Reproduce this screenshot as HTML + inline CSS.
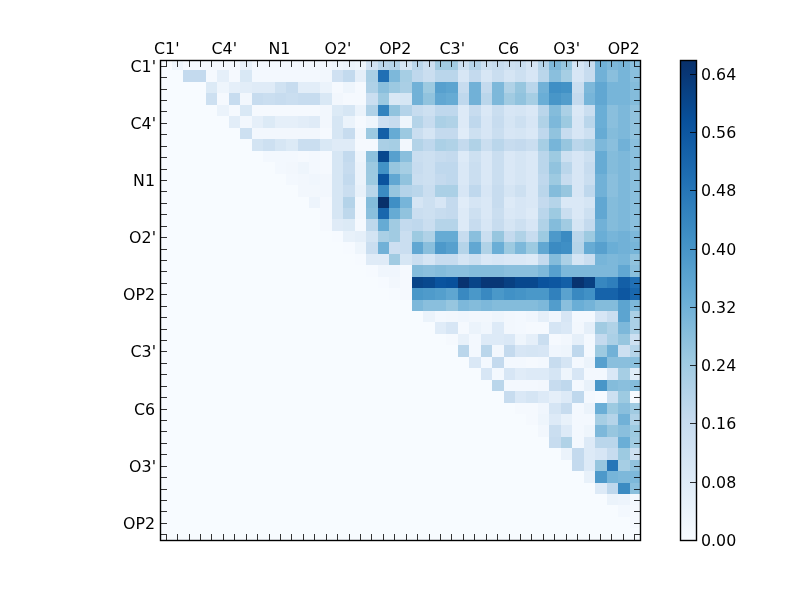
<!DOCTYPE html>
<html><head><meta charset="utf-8"><title>heatmap</title>
<style>
html,body{margin:0;padding:0;background:#fff;}
body{width:800px;height:600px;overflow:hidden;}
svg{display:block;}
text{font-family:"DejaVu Sans","Liberation Sans",sans-serif;font-size:16.67px;fill:#000;}
</style></head><body>
<svg width="800" height="600" viewBox="0 0 800 600">
<rect x="0" y="0" width="800" height="600" fill="#fff"/>
<defs><clipPath id="ax"><rect x="160" y="60" width="481" height="481"/></clipPath>
<linearGradient id="cb" x1="0" y1="0" x2="0" y2="1"><stop offset="0.0000" stop-color="#08306b"/><stop offset="0.0312" stop-color="#083776"/><stop offset="0.0625" stop-color="#084082"/><stop offset="0.0938" stop-color="#08488e"/><stop offset="0.1250" stop-color="#08509b"/><stop offset="0.1562" stop-color="#0e58a2"/><stop offset="0.1875" stop-color="#1460a8"/><stop offset="0.2188" stop-color="#1a68ae"/><stop offset="0.2500" stop-color="#2070b4"/><stop offset="0.2812" stop-color="#2979b9"/><stop offset="0.3125" stop-color="#3181bd"/><stop offset="0.3438" stop-color="#3989c1"/><stop offset="0.3750" stop-color="#4191c6"/><stop offset="0.4062" stop-color="#4b98ca"/><stop offset="0.4375" stop-color="#56a0ce"/><stop offset="0.4688" stop-color="#60a7d2"/><stop offset="0.5000" stop-color="#6aaed6"/><stop offset="0.5312" stop-color="#77b5d9"/><stop offset="0.5625" stop-color="#84bcdb"/><stop offset="0.5938" stop-color="#91c3de"/><stop offset="0.6250" stop-color="#9dcae1"/><stop offset="0.6562" stop-color="#a8cee4"/><stop offset="0.6875" stop-color="#b2d2e8"/><stop offset="0.7188" stop-color="#bcd7eb"/><stop offset="0.7500" stop-color="#c6dbef"/><stop offset="0.7812" stop-color="#ccdff1"/><stop offset="0.8125" stop-color="#d2e3f3"/><stop offset="0.8438" stop-color="#d8e7f5"/><stop offset="0.8750" stop-color="#deebf7"/><stop offset="0.9062" stop-color="#e4eff9"/><stop offset="0.9375" stop-color="#eaf3fb"/><stop offset="0.9688" stop-color="#f1f7fd"/><stop offset="1.0000" stop-color="#f7fbff"/></linearGradient></defs>
<g clip-path="url(#ax)" shape-rendering="crispEdges">
<rect x="160" y="60" width="481" height="481" fill="#f7fbff"/>
<rect x="172" y="60" width="11" height="10" fill="#eef5fc"/>
<rect x="183" y="60" width="57" height="10" fill="#f5f9fe"/>
<rect x="240" y="60" width="12" height="10" fill="#e8f1fa"/>
<rect x="252" y="60" width="46" height="10" fill="#f3f8fe"/>
<rect x="298" y="60" width="34" height="10" fill="#f2f7fd"/>
<rect x="332" y="60" width="11" height="10" fill="#eef5fc"/>
<rect x="343" y="60" width="12" height="10" fill="#ebf3fb"/>
<rect x="355" y="60" width="11" height="10" fill="#eef5fc"/>
<rect x="366" y="60" width="12" height="10" fill="#d0e1f2"/>
<rect x="378" y="60" width="11" height="10" fill="#bad6eb"/>
<rect x="389" y="60" width="11" height="10" fill="#b5d4e9"/>
<rect x="400" y="60" width="12" height="10" fill="#d6e6f4"/>
<rect x="412" y="60" width="11" height="10" fill="#bad6eb"/>
<rect x="423" y="60" width="12" height="10" fill="#cde0f1"/>
<rect x="435" y="60" width="23" height="10" fill="#a1cbe2"/>
<rect x="458" y="60" width="11" height="10" fill="#cde0f1"/>
<rect x="469" y="60" width="12" height="10" fill="#b5d4e9"/>
<rect x="481" y="60" width="11" height="10" fill="#cde0f1"/>
<rect x="492" y="60" width="12" height="10" fill="#c7dcef"/>
<rect x="504" y="60" width="11" height="10" fill="#cde0f1"/>
<rect x="515" y="60" width="11" height="10" fill="#cadef0"/>
<rect x="526" y="60" width="12" height="10" fill="#d5e5f4"/>
<rect x="538" y="60" width="11" height="10" fill="#b5d4e9"/>
<rect x="549" y="60" width="12" height="10" fill="#7db8da"/>
<rect x="561" y="60" width="11" height="10" fill="#97c6df"/>
<rect x="572" y="60" width="12" height="10" fill="#d5e5f4"/>
<rect x="584" y="60" width="11" height="10" fill="#c7dcef"/>
<rect x="595" y="60" width="12" height="10" fill="#71b1d7"/>
<rect x="607" y="60" width="11" height="10" fill="#7db8da"/>
<rect x="618" y="60" width="12" height="10" fill="#77b5d9"/>
<rect x="630" y="60" width="11" height="10" fill="#8abfdd"/>
<rect x="183" y="70" width="23" height="12" fill="#c4daee"/>
<rect x="206" y="70" width="11" height="12" fill="#f5f9fe"/>
<rect x="217" y="70" width="12" height="12" fill="#e5eff9"/>
<rect x="229" y="70" width="11" height="12" fill="#f5f9fe"/>
<rect x="240" y="70" width="12" height="12" fill="#d9e8f5"/>
<rect x="252" y="70" width="68" height="12" fill="#f3f8fe"/>
<rect x="320" y="70" width="12" height="12" fill="#f2f7fd"/>
<rect x="332" y="70" width="11" height="12" fill="#d0e1f2"/>
<rect x="343" y="70" width="12" height="12" fill="#c3daee"/>
<rect x="355" y="70" width="11" height="12" fill="#e5eff9"/>
<rect x="366" y="70" width="12" height="12" fill="#aacfe5"/>
<rect x="378" y="70" width="11" height="12" fill="#206fb4"/>
<rect x="389" y="70" width="11" height="12" fill="#7db8da"/>
<rect x="400" y="70" width="12" height="12" fill="#a6cee4"/>
<rect x="412" y="70" width="11" height="12" fill="#bfd8ed"/>
<rect x="423" y="70" width="12" height="12" fill="#cadef0"/>
<rect x="435" y="70" width="23" height="12" fill="#bad6eb"/>
<rect x="458" y="70" width="11" height="12" fill="#d7e6f5"/>
<rect x="469" y="70" width="12" height="12" fill="#c4daee"/>
<rect x="481" y="70" width="11" height="12" fill="#d7e6f5"/>
<rect x="492" y="70" width="12" height="12" fill="#cadef0"/>
<rect x="504" y="70" width="11" height="12" fill="#d5e5f4"/>
<rect x="515" y="70" width="11" height="12" fill="#cde0f1"/>
<rect x="526" y="70" width="12" height="12" fill="#d7e6f5"/>
<rect x="538" y="70" width="11" height="12" fill="#bad6eb"/>
<rect x="549" y="70" width="12" height="12" fill="#8abfdd"/>
<rect x="561" y="70" width="11" height="12" fill="#a6cee4"/>
<rect x="572" y="70" width="12" height="12" fill="#d7e6f5"/>
<rect x="584" y="70" width="11" height="12" fill="#c7dcef"/>
<rect x="595" y="70" width="12" height="12" fill="#71b1d7"/>
<rect x="607" y="70" width="11" height="12" fill="#8abfdd"/>
<rect x="618" y="70" width="12" height="12" fill="#77b5d9"/>
<rect x="630" y="70" width="11" height="12" fill="#8abfdd"/>
<rect x="206" y="82" width="11" height="11" fill="#dceaf6"/>
<rect x="217" y="82" width="12" height="11" fill="#eef5fc"/>
<rect x="229" y="82" width="11" height="11" fill="#e5eff9"/>
<rect x="240" y="82" width="12" height="11" fill="#e2edf8"/>
<rect x="252" y="82" width="23" height="11" fill="#dfebf7"/>
<rect x="275" y="82" width="11" height="11" fill="#d0e2f2"/>
<rect x="286" y="82" width="12" height="11" fill="#c7dcef"/>
<rect x="298" y="82" width="22" height="11" fill="#e2edf8"/>
<rect x="320" y="82" width="12" height="11" fill="#ebf3fb"/>
<rect x="332" y="82" width="11" height="11" fill="#f5f9fe"/>
<rect x="343" y="82" width="12" height="11" fill="#eef5fc"/>
<rect x="355" y="82" width="11" height="11" fill="#f5f9fe"/>
<rect x="366" y="82" width="12" height="11" fill="#afd1e7"/>
<rect x="378" y="82" width="11" height="11" fill="#8abfdd"/>
<rect x="389" y="82" width="11" height="11" fill="#9cc9e1"/>
<rect x="400" y="82" width="12" height="11" fill="#aacfe5"/>
<rect x="412" y="82" width="11" height="11" fill="#71b1d7"/>
<rect x="423" y="82" width="12" height="11" fill="#9dcae1"/>
<rect x="435" y="82" width="11" height="11" fill="#57a0ce"/>
<rect x="446" y="82" width="12" height="11" fill="#5ca4d0"/>
<rect x="458" y="82" width="11" height="11" fill="#c7dcef"/>
<rect x="469" y="82" width="12" height="11" fill="#71b1d7"/>
<rect x="481" y="82" width="11" height="11" fill="#c4daee"/>
<rect x="492" y="82" width="12" height="11" fill="#7db8da"/>
<rect x="504" y="82" width="11" height="11" fill="#b0d2e7"/>
<rect x="515" y="82" width="11" height="11" fill="#97c6df"/>
<rect x="526" y="82" width="12" height="11" fill="#bad6eb"/>
<rect x="538" y="82" width="11" height="11" fill="#71b1d7"/>
<rect x="549" y="82" width="12" height="11" fill="#3f8fc5"/>
<rect x="561" y="82" width="11" height="11" fill="#4292c6"/>
<rect x="572" y="82" width="12" height="11" fill="#cadef0"/>
<rect x="584" y="82" width="11" height="11" fill="#7db8da"/>
<rect x="595" y="82" width="12" height="11" fill="#61a7d2"/>
<rect x="607" y="82" width="23" height="11" fill="#77b5d9"/>
<rect x="630" y="82" width="11" height="11" fill="#84bcdb"/>
<rect x="206" y="93" width="11" height="12" fill="#cde0f1"/>
<rect x="217" y="93" width="12" height="12" fill="#f5f9fe"/>
<rect x="229" y="93" width="11" height="12" fill="#c7dcef"/>
<rect x="240" y="93" width="12" height="12" fill="#f2f7fd"/>
<rect x="252" y="93" width="11" height="12" fill="#c7dcef"/>
<rect x="263" y="93" width="12" height="12" fill="#cadef0"/>
<rect x="275" y="93" width="11" height="12" fill="#c7dcef"/>
<rect x="286" y="93" width="12" height="12" fill="#cadef0"/>
<rect x="298" y="93" width="22" height="12" fill="#c7dcef"/>
<rect x="320" y="93" width="12" height="12" fill="#d9e8f5"/>
<rect x="332" y="93" width="11" height="12" fill="#f2f7fd"/>
<rect x="343" y="93" width="23" height="12" fill="#f5f9fe"/>
<rect x="366" y="93" width="12" height="12" fill="#cadef0"/>
<rect x="378" y="93" width="11" height="12" fill="#9cc9e1"/>
<rect x="389" y="93" width="11" height="12" fill="#d9e8f5"/>
<rect x="400" y="93" width="12" height="12" fill="#d6e6f4"/>
<rect x="412" y="93" width="11" height="12" fill="#71b1d7"/>
<rect x="423" y="93" width="12" height="12" fill="#91c3de"/>
<rect x="435" y="93" width="11" height="12" fill="#61a7d2"/>
<rect x="446" y="93" width="12" height="12" fill="#66abd4"/>
<rect x="458" y="93" width="11" height="12" fill="#bfd8ed"/>
<rect x="469" y="93" width="12" height="12" fill="#71b1d7"/>
<rect x="481" y="93" width="11" height="12" fill="#bad6eb"/>
<rect x="492" y="93" width="12" height="12" fill="#7db8da"/>
<rect x="504" y="93" width="11" height="12" fill="#a1cbe2"/>
<rect x="515" y="93" width="11" height="12" fill="#91c3de"/>
<rect x="526" y="93" width="12" height="12" fill="#a6cee4"/>
<rect x="538" y="93" width="11" height="12" fill="#6aaed6"/>
<rect x="549" y="93" width="12" height="12" fill="#4896c8"/>
<rect x="561" y="93" width="11" height="12" fill="#529dcc"/>
<rect x="572" y="93" width="12" height="12" fill="#c4daee"/>
<rect x="584" y="93" width="11" height="12" fill="#77b5d9"/>
<rect x="595" y="93" width="12" height="12" fill="#61a7d2"/>
<rect x="607" y="93" width="23" height="12" fill="#77b5d9"/>
<rect x="630" y="93" width="11" height="12" fill="#84bcdb"/>
<rect x="217" y="105" width="12" height="11" fill="#ebf3fb"/>
<rect x="229" y="105" width="11" height="11" fill="#f5f9fe"/>
<rect x="240" y="105" width="12" height="11" fill="#d9e8f5"/>
<rect x="252" y="105" width="68" height="11" fill="#f5f9fe"/>
<rect x="320" y="105" width="12" height="11" fill="#f2f7fd"/>
<rect x="332" y="105" width="11" height="11" fill="#dceaf6"/>
<rect x="343" y="105" width="12" height="11" fill="#d6e6f4"/>
<rect x="355" y="105" width="11" height="11" fill="#ebf3fb"/>
<rect x="366" y="105" width="12" height="11" fill="#afd1e7"/>
<rect x="378" y="105" width="11" height="11" fill="#3383be"/>
<rect x="389" y="105" width="11" height="11" fill="#91c3de"/>
<rect x="400" y="105" width="12" height="11" fill="#b4d3e9"/>
<rect x="412" y="105" width="11" height="11" fill="#c7dcef"/>
<rect x="423" y="105" width="12" height="11" fill="#cde0f1"/>
<rect x="435" y="105" width="23" height="11" fill="#bfd8ed"/>
<rect x="458" y="105" width="11" height="11" fill="#ddeaf7"/>
<rect x="469" y="105" width="12" height="11" fill="#c7dcef"/>
<rect x="481" y="105" width="11" height="11" fill="#dae8f6"/>
<rect x="492" y="105" width="12" height="11" fill="#cadef0"/>
<rect x="504" y="105" width="11" height="11" fill="#d7e6f5"/>
<rect x="515" y="105" width="11" height="11" fill="#d5e5f4"/>
<rect x="526" y="105" width="12" height="11" fill="#dae8f6"/>
<rect x="538" y="105" width="11" height="11" fill="#bad6eb"/>
<rect x="549" y="105" width="12" height="11" fill="#84bcdb"/>
<rect x="561" y="105" width="11" height="11" fill="#abd0e6"/>
<rect x="572" y="105" width="12" height="11" fill="#dae8f6"/>
<rect x="584" y="105" width="11" height="11" fill="#cadef0"/>
<rect x="595" y="105" width="12" height="11" fill="#6aaed6"/>
<rect x="607" y="105" width="11" height="11" fill="#8abfdd"/>
<rect x="618" y="105" width="12" height="11" fill="#7db8da"/>
<rect x="630" y="105" width="11" height="11" fill="#91c3de"/>
<rect x="229" y="116" width="11" height="12" fill="#e2edf8"/>
<rect x="240" y="116" width="12" height="12" fill="#f2f7fd"/>
<rect x="252" y="116" width="11" height="12" fill="#e5eff9"/>
<rect x="263" y="116" width="12" height="12" fill="#dceaf6"/>
<rect x="275" y="116" width="23" height="12" fill="#e5eff9"/>
<rect x="298" y="116" width="11" height="12" fill="#e2edf8"/>
<rect x="309" y="116" width="11" height="12" fill="#dfebf7"/>
<rect x="320" y="116" width="12" height="12" fill="#f2f7fd"/>
<rect x="332" y="116" width="11" height="12" fill="#d6e6f4"/>
<rect x="343" y="116" width="12" height="12" fill="#ebf3fb"/>
<rect x="355" y="116" width="11" height="12" fill="#f5f9fe"/>
<rect x="366" y="116" width="12" height="12" fill="#eef5fc"/>
<rect x="378" y="116" width="11" height="12" fill="#cddff1"/>
<rect x="389" y="116" width="11" height="12" fill="#c7dcef"/>
<rect x="400" y="116" width="12" height="12" fill="#eef5fc"/>
<rect x="412" y="116" width="11" height="12" fill="#b5d4e9"/>
<rect x="423" y="116" width="12" height="12" fill="#c7dcef"/>
<rect x="435" y="116" width="11" height="12" fill="#abd0e6"/>
<rect x="446" y="116" width="12" height="12" fill="#b0d2e7"/>
<rect x="458" y="116" width="11" height="12" fill="#ddeaf7"/>
<rect x="469" y="116" width="12" height="12" fill="#bfd8ed"/>
<rect x="481" y="116" width="11" height="12" fill="#d7e6f5"/>
<rect x="492" y="116" width="12" height="12" fill="#c7dcef"/>
<rect x="504" y="116" width="11" height="12" fill="#d5e5f4"/>
<rect x="515" y="116" width="11" height="12" fill="#cde0f1"/>
<rect x="526" y="116" width="12" height="12" fill="#d7e6f5"/>
<rect x="538" y="116" width="11" height="12" fill="#b0d2e7"/>
<rect x="549" y="116" width="12" height="12" fill="#7db8da"/>
<rect x="561" y="116" width="11" height="12" fill="#9dcae1"/>
<rect x="572" y="116" width="12" height="12" fill="#d7e6f5"/>
<rect x="584" y="116" width="11" height="12" fill="#bad6eb"/>
<rect x="595" y="116" width="12" height="12" fill="#6aaed6"/>
<rect x="607" y="116" width="11" height="12" fill="#8abfdd"/>
<rect x="618" y="116" width="12" height="12" fill="#7db8da"/>
<rect x="630" y="116" width="11" height="12" fill="#91c3de"/>
<rect x="240" y="128" width="12" height="11" fill="#cde0f1"/>
<rect x="252" y="128" width="68" height="11" fill="#f2f7fd"/>
<rect x="320" y="128" width="12" height="11" fill="#f5f9fe"/>
<rect x="332" y="128" width="11" height="11" fill="#d6e6f4"/>
<rect x="343" y="128" width="12" height="11" fill="#c7dcef"/>
<rect x="355" y="128" width="11" height="11" fill="#f2f7fd"/>
<rect x="366" y="128" width="12" height="11" fill="#9cc9e1"/>
<rect x="378" y="128" width="11" height="11" fill="#135fa7"/>
<rect x="389" y="128" width="11" height="11" fill="#66abd4"/>
<rect x="400" y="128" width="12" height="11" fill="#9cc9e1"/>
<rect x="412" y="128" width="11" height="11" fill="#cadef0"/>
<rect x="423" y="128" width="12" height="11" fill="#d5e5f4"/>
<rect x="435" y="128" width="23" height="11" fill="#c4daee"/>
<rect x="458" y="128" width="11" height="11" fill="#e0ecf8"/>
<rect x="469" y="128" width="12" height="11" fill="#cde0f1"/>
<rect x="481" y="128" width="11" height="11" fill="#d7e6f5"/>
<rect x="492" y="128" width="12" height="11" fill="#cadef0"/>
<rect x="504" y="128" width="11" height="11" fill="#d7e6f5"/>
<rect x="515" y="128" width="11" height="11" fill="#d5e5f4"/>
<rect x="526" y="128" width="12" height="11" fill="#dae8f6"/>
<rect x="538" y="128" width="11" height="11" fill="#bfd8ed"/>
<rect x="549" y="128" width="12" height="11" fill="#91c3de"/>
<rect x="561" y="128" width="11" height="11" fill="#c7dcef"/>
<rect x="572" y="128" width="12" height="11" fill="#d7e6f5"/>
<rect x="584" y="128" width="11" height="11" fill="#cde0f1"/>
<rect x="595" y="128" width="12" height="11" fill="#66abd4"/>
<rect x="607" y="128" width="11" height="11" fill="#84bcdb"/>
<rect x="618" y="128" width="12" height="11" fill="#7db8da"/>
<rect x="630" y="128" width="11" height="11" fill="#91c3de"/>
<rect x="252" y="139" width="11" height="12" fill="#d3e4f3"/>
<rect x="263" y="139" width="12" height="12" fill="#cde0f1"/>
<rect x="275" y="139" width="11" height="12" fill="#d6e6f4"/>
<rect x="286" y="139" width="12" height="12" fill="#dceaf6"/>
<rect x="298" y="139" width="22" height="12" fill="#cadef0"/>
<rect x="320" y="139" width="12" height="12" fill="#d9e8f5"/>
<rect x="332" y="139" width="23" height="12" fill="#dfebf7"/>
<rect x="355" y="139" width="23" height="12" fill="#f5f9fe"/>
<rect x="378" y="139" width="11" height="12" fill="#aacfe5"/>
<rect x="389" y="139" width="11" height="12" fill="#a6cee4"/>
<rect x="400" y="139" width="12" height="12" fill="#f2f7fd"/>
<rect x="412" y="139" width="11" height="12" fill="#b3d3e8"/>
<rect x="423" y="139" width="12" height="12" fill="#bfd8ed"/>
<rect x="435" y="139" width="11" height="12" fill="#abd0e6"/>
<rect x="446" y="139" width="12" height="12" fill="#b0d2e7"/>
<rect x="458" y="139" width="11" height="12" fill="#c4daee"/>
<rect x="469" y="139" width="12" height="12" fill="#b0d2e7"/>
<rect x="481" y="139" width="11" height="12" fill="#cadef0"/>
<rect x="492" y="139" width="12" height="12" fill="#bad6eb"/>
<rect x="504" y="139" width="11" height="12" fill="#c7dcef"/>
<rect x="515" y="139" width="11" height="12" fill="#c4daee"/>
<rect x="526" y="139" width="12" height="12" fill="#cadef0"/>
<rect x="538" y="139" width="11" height="12" fill="#a6cee4"/>
<rect x="549" y="139" width="12" height="12" fill="#77b5d9"/>
<rect x="561" y="139" width="11" height="12" fill="#97c6df"/>
<rect x="572" y="139" width="12" height="12" fill="#bad6eb"/>
<rect x="584" y="139" width="11" height="12" fill="#b0d2e7"/>
<rect x="595" y="139" width="12" height="12" fill="#7db8da"/>
<rect x="607" y="139" width="11" height="12" fill="#8abfdd"/>
<rect x="618" y="139" width="12" height="12" fill="#71b1d7"/>
<rect x="630" y="139" width="11" height="12" fill="#8abfdd"/>
<rect x="263" y="151" width="35" height="11" fill="#f3f8fe"/>
<rect x="298" y="151" width="11" height="11" fill="#f5f9fe"/>
<rect x="309" y="151" width="11" height="11" fill="#f3f8fe"/>
<rect x="320" y="151" width="12" height="11" fill="#f5f9fe"/>
<rect x="332" y="151" width="11" height="11" fill="#d6e6f4"/>
<rect x="343" y="151" width="12" height="11" fill="#c3daee"/>
<rect x="355" y="151" width="11" height="11" fill="#eef5fc"/>
<rect x="366" y="151" width="12" height="11" fill="#8dc1dd"/>
<rect x="378" y="151" width="11" height="11" fill="#08488e"/>
<rect x="389" y="151" width="11" height="11" fill="#57a0ce"/>
<rect x="400" y="151" width="12" height="11" fill="#8abfdd"/>
<rect x="412" y="151" width="11" height="11" fill="#cadef0"/>
<rect x="423" y="151" width="12" height="11" fill="#cde0f1"/>
<rect x="435" y="151" width="11" height="11" fill="#c7dcef"/>
<rect x="446" y="151" width="12" height="11" fill="#c4daee"/>
<rect x="458" y="151" width="11" height="11" fill="#ddeaf7"/>
<rect x="469" y="151" width="12" height="11" fill="#cde0f1"/>
<rect x="481" y="151" width="11" height="11" fill="#dae8f6"/>
<rect x="492" y="151" width="12" height="11" fill="#cadef0"/>
<rect x="504" y="151" width="11" height="11" fill="#dae8f6"/>
<rect x="515" y="151" width="11" height="11" fill="#d5e5f4"/>
<rect x="526" y="151" width="12" height="11" fill="#dae8f6"/>
<rect x="538" y="151" width="11" height="11" fill="#bad6eb"/>
<rect x="549" y="151" width="12" height="11" fill="#9dcae1"/>
<rect x="561" y="151" width="11" height="11" fill="#cde0f1"/>
<rect x="572" y="151" width="12" height="11" fill="#d7e6f5"/>
<rect x="584" y="151" width="11" height="11" fill="#cde0f1"/>
<rect x="595" y="151" width="12" height="11" fill="#66abd4"/>
<rect x="607" y="151" width="11" height="11" fill="#84bcdb"/>
<rect x="618" y="151" width="12" height="11" fill="#7db8da"/>
<rect x="630" y="151" width="11" height="11" fill="#8abfdd"/>
<rect x="275" y="162" width="11" height="12" fill="#f3f8fe"/>
<rect x="286" y="162" width="12" height="12" fill="#f2f7fd"/>
<rect x="298" y="162" width="11" height="12" fill="#eef5fc"/>
<rect x="309" y="162" width="11" height="12" fill="#f3f8fe"/>
<rect x="320" y="162" width="12" height="12" fill="#f5f9fe"/>
<rect x="332" y="162" width="11" height="12" fill="#d6e6f4"/>
<rect x="343" y="162" width="12" height="12" fill="#c7dcef"/>
<rect x="355" y="162" width="11" height="12" fill="#ebf3fb"/>
<rect x="366" y="162" width="12" height="12" fill="#9cc9e1"/>
<rect x="378" y="162" width="11" height="12" fill="#4292c6"/>
<rect x="389" y="162" width="11" height="12" fill="#97c6df"/>
<rect x="400" y="162" width="12" height="12" fill="#a6cee4"/>
<rect x="412" y="162" width="11" height="12" fill="#c7dcef"/>
<rect x="423" y="162" width="12" height="12" fill="#cde0f1"/>
<rect x="435" y="162" width="23" height="12" fill="#bfd8ed"/>
<rect x="458" y="162" width="11" height="12" fill="#dae8f6"/>
<rect x="469" y="162" width="12" height="12" fill="#cadef0"/>
<rect x="481" y="162" width="11" height="12" fill="#dae8f6"/>
<rect x="492" y="162" width="12" height="12" fill="#cadef0"/>
<rect x="504" y="162" width="11" height="12" fill="#dae8f6"/>
<rect x="515" y="162" width="11" height="12" fill="#d5e5f4"/>
<rect x="526" y="162" width="12" height="12" fill="#dae8f6"/>
<rect x="538" y="162" width="11" height="12" fill="#bad6eb"/>
<rect x="549" y="162" width="12" height="12" fill="#91c3de"/>
<rect x="561" y="162" width="11" height="12" fill="#bad6eb"/>
<rect x="572" y="162" width="12" height="12" fill="#d7e6f5"/>
<rect x="584" y="162" width="11" height="12" fill="#c7dcef"/>
<rect x="595" y="162" width="12" height="12" fill="#66abd4"/>
<rect x="607" y="162" width="11" height="12" fill="#84bcdb"/>
<rect x="618" y="162" width="12" height="12" fill="#7db8da"/>
<rect x="630" y="162" width="11" height="12" fill="#8abfdd"/>
<rect x="286" y="174" width="12" height="11" fill="#f3f8fe"/>
<rect x="298" y="174" width="11" height="11" fill="#f2f7fd"/>
<rect x="309" y="174" width="11" height="11" fill="#f0f6fd"/>
<rect x="320" y="174" width="12" height="11" fill="#f2f7fd"/>
<rect x="332" y="174" width="11" height="11" fill="#d6e6f4"/>
<rect x="343" y="174" width="12" height="11" fill="#c3daee"/>
<rect x="355" y="174" width="11" height="11" fill="#ebf3fb"/>
<rect x="366" y="174" width="12" height="11" fill="#9dcae1"/>
<rect x="378" y="174" width="11" height="11" fill="#0a539e"/>
<rect x="389" y="174" width="11" height="11" fill="#61a7d2"/>
<rect x="400" y="174" width="12" height="11" fill="#91c3de"/>
<rect x="412" y="174" width="11" height="11" fill="#cadef0"/>
<rect x="423" y="174" width="12" height="11" fill="#cde0f1"/>
<rect x="435" y="174" width="11" height="11" fill="#c4daee"/>
<rect x="446" y="174" width="12" height="11" fill="#bfd8ed"/>
<rect x="458" y="174" width="11" height="11" fill="#dae8f6"/>
<rect x="469" y="174" width="12" height="11" fill="#cadef0"/>
<rect x="481" y="174" width="11" height="11" fill="#dae8f6"/>
<rect x="492" y="174" width="12" height="11" fill="#cadef0"/>
<rect x="504" y="174" width="11" height="11" fill="#dae8f6"/>
<rect x="515" y="174" width="11" height="11" fill="#d5e5f4"/>
<rect x="526" y="174" width="12" height="11" fill="#dae8f6"/>
<rect x="538" y="174" width="11" height="11" fill="#bfd8ed"/>
<rect x="549" y="174" width="12" height="11" fill="#9dcae1"/>
<rect x="561" y="174" width="11" height="11" fill="#c7dcef"/>
<rect x="572" y="174" width="12" height="11" fill="#d7e6f5"/>
<rect x="584" y="174" width="11" height="11" fill="#cadef0"/>
<rect x="595" y="174" width="12" height="11" fill="#71b1d7"/>
<rect x="607" y="174" width="11" height="11" fill="#8abfdd"/>
<rect x="618" y="174" width="12" height="11" fill="#7db8da"/>
<rect x="630" y="174" width="11" height="11" fill="#8abfdd"/>
<rect x="298" y="185" width="34" height="12" fill="#f2f7fd"/>
<rect x="332" y="185" width="11" height="12" fill="#d6e6f4"/>
<rect x="343" y="185" width="12" height="12" fill="#cadef0"/>
<rect x="355" y="185" width="11" height="12" fill="#e8f1fa"/>
<rect x="366" y="185" width="12" height="12" fill="#b9d6ea"/>
<rect x="378" y="185" width="11" height="12" fill="#3b8bc2"/>
<rect x="389" y="185" width="11" height="12" fill="#97c6df"/>
<rect x="400" y="185" width="12" height="12" fill="#b4d3e9"/>
<rect x="412" y="185" width="11" height="12" fill="#bad6eb"/>
<rect x="423" y="185" width="12" height="12" fill="#cadef0"/>
<rect x="435" y="185" width="23" height="12" fill="#abd0e6"/>
<rect x="458" y="185" width="11" height="12" fill="#d7e6f5"/>
<rect x="469" y="185" width="12" height="12" fill="#bfd8ed"/>
<rect x="481" y="185" width="11" height="12" fill="#d7e6f5"/>
<rect x="492" y="185" width="12" height="12" fill="#c7dcef"/>
<rect x="504" y="185" width="11" height="12" fill="#d5e5f4"/>
<rect x="515" y="185" width="11" height="12" fill="#cde0f1"/>
<rect x="526" y="185" width="12" height="12" fill="#dae8f6"/>
<rect x="538" y="185" width="11" height="12" fill="#bad6eb"/>
<rect x="549" y="185" width="12" height="12" fill="#84bcdb"/>
<rect x="561" y="185" width="11" height="12" fill="#97c6df"/>
<rect x="572" y="185" width="12" height="12" fill="#d7e6f5"/>
<rect x="584" y="185" width="11" height="12" fill="#bfd8ed"/>
<rect x="595" y="185" width="12" height="12" fill="#71b1d7"/>
<rect x="607" y="185" width="11" height="12" fill="#8abfdd"/>
<rect x="618" y="185" width="12" height="12" fill="#7db8da"/>
<rect x="630" y="185" width="11" height="12" fill="#8abfdd"/>
<rect x="309" y="197" width="11" height="11" fill="#edf4fc"/>
<rect x="320" y="197" width="12" height="11" fill="#f5f9fe"/>
<rect x="332" y="197" width="11" height="11" fill="#d6e6f4"/>
<rect x="343" y="197" width="12" height="11" fill="#b4d3e9"/>
<rect x="355" y="197" width="11" height="11" fill="#f2f7fd"/>
<rect x="366" y="197" width="12" height="11" fill="#84bcdb"/>
<rect x="378" y="197" width="11" height="11" fill="#08306b"/>
<rect x="389" y="197" width="11" height="11" fill="#3f8fc5"/>
<rect x="400" y="197" width="12" height="11" fill="#77b5d9"/>
<rect x="412" y="197" width="11" height="11" fill="#d5e5f4"/>
<rect x="423" y="197" width="12" height="11" fill="#cde0f1"/>
<rect x="435" y="197" width="11" height="11" fill="#d7e6f5"/>
<rect x="446" y="197" width="12" height="11" fill="#c4daee"/>
<rect x="458" y="197" width="11" height="11" fill="#e0ecf8"/>
<rect x="469" y="197" width="12" height="11" fill="#d5e5f4"/>
<rect x="481" y="197" width="11" height="11" fill="#dae8f6"/>
<rect x="492" y="197" width="12" height="11" fill="#c7dcef"/>
<rect x="504" y="197" width="11" height="11" fill="#ddeaf7"/>
<rect x="515" y="197" width="11" height="11" fill="#d7e6f5"/>
<rect x="526" y="197" width="12" height="11" fill="#dae8f6"/>
<rect x="538" y="197" width="11" height="11" fill="#c4daee"/>
<rect x="549" y="197" width="12" height="11" fill="#b5d4e9"/>
<rect x="561" y="197" width="23" height="11" fill="#dae8f6"/>
<rect x="584" y="197" width="11" height="11" fill="#d5e5f4"/>
<rect x="595" y="197" width="12" height="11" fill="#61a7d2"/>
<rect x="607" y="197" width="11" height="11" fill="#84bcdb"/>
<rect x="618" y="197" width="12" height="11" fill="#7db8da"/>
<rect x="630" y="197" width="11" height="11" fill="#8abfdd"/>
<rect x="320" y="208" width="12" height="11" fill="#f5f9fe"/>
<rect x="332" y="208" width="11" height="11" fill="#d6e6f4"/>
<rect x="343" y="208" width="12" height="11" fill="#bed8ec"/>
<rect x="355" y="208" width="11" height="11" fill="#f2f7fd"/>
<rect x="366" y="208" width="12" height="11" fill="#8abfdd"/>
<rect x="378" y="208" width="11" height="11" fill="#1967ad"/>
<rect x="389" y="208" width="11" height="11" fill="#66abd4"/>
<rect x="400" y="208" width="12" height="11" fill="#91c3de"/>
<rect x="412" y="208" width="11" height="11" fill="#cadef0"/>
<rect x="423" y="208" width="12" height="11" fill="#cde0f1"/>
<rect x="435" y="208" width="11" height="11" fill="#c7dcef"/>
<rect x="446" y="208" width="12" height="11" fill="#c4daee"/>
<rect x="458" y="208" width="11" height="11" fill="#ddeaf7"/>
<rect x="469" y="208" width="12" height="11" fill="#cde0f1"/>
<rect x="481" y="208" width="11" height="11" fill="#dae8f6"/>
<rect x="492" y="208" width="12" height="11" fill="#cadef0"/>
<rect x="504" y="208" width="11" height="11" fill="#dae8f6"/>
<rect x="515" y="208" width="11" height="11" fill="#d7e6f5"/>
<rect x="526" y="208" width="12" height="11" fill="#ddeaf7"/>
<rect x="538" y="208" width="11" height="11" fill="#bad6eb"/>
<rect x="549" y="208" width="12" height="11" fill="#9dcae1"/>
<rect x="561" y="208" width="11" height="11" fill="#cadef0"/>
<rect x="572" y="208" width="12" height="11" fill="#dae8f6"/>
<rect x="584" y="208" width="11" height="11" fill="#cde0f1"/>
<rect x="595" y="208" width="12" height="11" fill="#61a7d2"/>
<rect x="607" y="208" width="11" height="11" fill="#84bcdb"/>
<rect x="618" y="208" width="12" height="11" fill="#7db8da"/>
<rect x="630" y="208" width="11" height="11" fill="#8abfdd"/>
<rect x="320" y="219" width="12" height="12" fill="#f5f9fe"/>
<rect x="332" y="219" width="11" height="12" fill="#dfebf7"/>
<rect x="343" y="219" width="12" height="12" fill="#dceaf6"/>
<rect x="355" y="219" width="11" height="12" fill="#f5f9fe"/>
<rect x="366" y="219" width="12" height="12" fill="#bed8ec"/>
<rect x="378" y="219" width="11" height="12" fill="#66abd4"/>
<rect x="389" y="219" width="11" height="12" fill="#a1cbe2"/>
<rect x="400" y="219" width="12" height="12" fill="#c3daee"/>
<rect x="412" y="219" width="11" height="12" fill="#bfd8ed"/>
<rect x="423" y="219" width="12" height="12" fill="#cadef0"/>
<rect x="435" y="219" width="23" height="12" fill="#b5d4e9"/>
<rect x="458" y="219" width="11" height="12" fill="#ddeaf7"/>
<rect x="469" y="219" width="12" height="12" fill="#c7dcef"/>
<rect x="481" y="219" width="11" height="12" fill="#d7e6f5"/>
<rect x="492" y="219" width="12" height="12" fill="#c7dcef"/>
<rect x="504" y="219" width="11" height="12" fill="#d5e5f4"/>
<rect x="515" y="219" width="11" height="12" fill="#cde0f1"/>
<rect x="526" y="219" width="12" height="12" fill="#d7e6f5"/>
<rect x="538" y="219" width="11" height="12" fill="#b0d2e7"/>
<rect x="549" y="219" width="12" height="12" fill="#84bcdb"/>
<rect x="561" y="219" width="11" height="12" fill="#a1cbe2"/>
<rect x="572" y="219" width="12" height="12" fill="#d5e5f4"/>
<rect x="584" y="219" width="11" height="12" fill="#c4daee"/>
<rect x="595" y="219" width="12" height="12" fill="#71b1d7"/>
<rect x="607" y="219" width="11" height="12" fill="#84bcdb"/>
<rect x="618" y="219" width="12" height="12" fill="#7db8da"/>
<rect x="630" y="219" width="11" height="12" fill="#8abfdd"/>
<rect x="332" y="231" width="11" height="11" fill="#f6faff"/>
<rect x="343" y="231" width="12" height="11" fill="#e8f1fa"/>
<rect x="355" y="231" width="11" height="11" fill="#e5eff9"/>
<rect x="366" y="231" width="12" height="11" fill="#d3e4f3"/>
<rect x="378" y="231" width="11" height="11" fill="#aacfe5"/>
<rect x="389" y="231" width="11" height="11" fill="#a1cbe2"/>
<rect x="400" y="231" width="12" height="11" fill="#cadef0"/>
<rect x="412" y="231" width="11" height="11" fill="#9dcae1"/>
<rect x="423" y="231" width="12" height="11" fill="#b0d2e7"/>
<rect x="435" y="231" width="23" height="11" fill="#66abd4"/>
<rect x="458" y="231" width="11" height="11" fill="#c7dcef"/>
<rect x="469" y="231" width="12" height="11" fill="#8abfdd"/>
<rect x="481" y="231" width="11" height="11" fill="#cadef0"/>
<rect x="492" y="231" width="12" height="11" fill="#97c6df"/>
<rect x="504" y="231" width="11" height="11" fill="#c4daee"/>
<rect x="515" y="231" width="11" height="11" fill="#b0d2e7"/>
<rect x="526" y="231" width="12" height="11" fill="#c7dcef"/>
<rect x="538" y="231" width="11" height="11" fill="#9dcae1"/>
<rect x="549" y="231" width="12" height="11" fill="#4d99ca"/>
<rect x="561" y="231" width="11" height="11" fill="#3b8bc2"/>
<rect x="572" y="231" width="12" height="11" fill="#bad6eb"/>
<rect x="584" y="231" width="11" height="11" fill="#9dcae1"/>
<rect x="595" y="231" width="12" height="11" fill="#6aaed6"/>
<rect x="607" y="231" width="11" height="11" fill="#77b5d9"/>
<rect x="618" y="231" width="12" height="11" fill="#71b1d7"/>
<rect x="630" y="231" width="11" height="11" fill="#7db8da"/>
<rect x="343" y="242" width="12" height="12" fill="#f6faff"/>
<rect x="355" y="242" width="11" height="12" fill="#eef5fc"/>
<rect x="366" y="242" width="12" height="12" fill="#cadef0"/>
<rect x="378" y="242" width="11" height="12" fill="#71b1d7"/>
<rect x="389" y="242" width="11" height="12" fill="#cddff1"/>
<rect x="400" y="242" width="12" height="12" fill="#cadef0"/>
<rect x="412" y="242" width="11" height="12" fill="#61a7d2"/>
<rect x="423" y="242" width="12" height="12" fill="#8abfdd"/>
<rect x="435" y="242" width="11" height="12" fill="#4d99ca"/>
<rect x="446" y="242" width="12" height="12" fill="#57a0ce"/>
<rect x="458" y="242" width="11" height="12" fill="#b5d4e9"/>
<rect x="469" y="242" width="12" height="12" fill="#61a7d2"/>
<rect x="481" y="242" width="11" height="12" fill="#b0d2e7"/>
<rect x="492" y="242" width="12" height="12" fill="#6aaed6"/>
<rect x="504" y="242" width="11" height="12" fill="#9dcae1"/>
<rect x="515" y="242" width="11" height="12" fill="#7db8da"/>
<rect x="526" y="242" width="12" height="12" fill="#9dcae1"/>
<rect x="538" y="242" width="11" height="12" fill="#61a7d2"/>
<rect x="549" y="242" width="12" height="12" fill="#3b8bc2"/>
<rect x="561" y="242" width="11" height="12" fill="#3f8fc5"/>
<rect x="572" y="242" width="12" height="12" fill="#b5d4e9"/>
<rect x="584" y="242" width="11" height="12" fill="#66abd4"/>
<rect x="595" y="242" width="12" height="12" fill="#57a0ce"/>
<rect x="607" y="242" width="11" height="12" fill="#6aaed6"/>
<rect x="618" y="242" width="12" height="12" fill="#71b1d7"/>
<rect x="630" y="242" width="11" height="12" fill="#77b5d9"/>
<rect x="355" y="254" width="11" height="11" fill="#f6faff"/>
<rect x="366" y="254" width="23" height="11" fill="#dfebf7"/>
<rect x="389" y="254" width="11" height="11" fill="#a1cbe2"/>
<rect x="400" y="254" width="12" height="11" fill="#d6e6f4"/>
<rect x="412" y="254" width="11" height="11" fill="#cadef0"/>
<rect x="423" y="254" width="12" height="11" fill="#d5e5f4"/>
<rect x="435" y="254" width="23" height="11" fill="#c7dcef"/>
<rect x="458" y="254" width="11" height="11" fill="#d5e5f4"/>
<rect x="469" y="254" width="12" height="11" fill="#cde0f1"/>
<rect x="481" y="254" width="11" height="11" fill="#dae8f6"/>
<rect x="492" y="254" width="12" height="11" fill="#d7e6f5"/>
<rect x="504" y="254" width="22" height="11" fill="#dae8f6"/>
<rect x="526" y="254" width="12" height="11" fill="#ddeaf7"/>
<rect x="538" y="254" width="11" height="11" fill="#c4daee"/>
<rect x="549" y="254" width="12" height="11" fill="#84bcdb"/>
<rect x="561" y="254" width="11" height="11" fill="#abd0e6"/>
<rect x="572" y="254" width="12" height="11" fill="#d5e5f4"/>
<rect x="584" y="254" width="11" height="11" fill="#cadef0"/>
<rect x="595" y="254" width="12" height="11" fill="#77b5d9"/>
<rect x="607" y="254" width="11" height="11" fill="#7db8da"/>
<rect x="618" y="254" width="12" height="11" fill="#77b5d9"/>
<rect x="630" y="254" width="11" height="11" fill="#91c3de"/>
<rect x="366" y="265" width="12" height="12" fill="#f6faff"/>
<rect x="378" y="265" width="22" height="12" fill="#f0f6fd"/>
<rect x="400" y="265" width="12" height="12" fill="#f5f9fe"/>
<rect x="412" y="265" width="11" height="12" fill="#84bcdb"/>
<rect x="423" y="265" width="12" height="12" fill="#8abfdd"/>
<rect x="435" y="265" width="11" height="12" fill="#84bcdb"/>
<rect x="446" y="265" width="23" height="12" fill="#8abfdd"/>
<rect x="469" y="265" width="35" height="12" fill="#84bcdb"/>
<rect x="504" y="265" width="34" height="12" fill="#8abfdd"/>
<rect x="538" y="265" width="11" height="12" fill="#7db8da"/>
<rect x="549" y="265" width="12" height="12" fill="#57a0ce"/>
<rect x="561" y="265" width="57" height="12" fill="#7db8da"/>
<rect x="618" y="265" width="12" height="12" fill="#61a7d2"/>
<rect x="630" y="265" width="11" height="12" fill="#8abfdd"/>
<rect x="378" y="277" width="11" height="11" fill="#f6faff"/>
<rect x="389" y="277" width="11" height="11" fill="#f2f7fd"/>
<rect x="400" y="277" width="12" height="11" fill="#f5f9fe"/>
<rect x="412" y="277" width="11" height="11" fill="#084488"/>
<rect x="423" y="277" width="12" height="11" fill="#08488e"/>
<rect x="435" y="277" width="11" height="11" fill="#0a539e"/>
<rect x="446" y="277" width="12" height="11" fill="#08509b"/>
<rect x="458" y="277" width="11" height="11" fill="#083370"/>
<rect x="469" y="277" width="12" height="11" fill="#084488"/>
<rect x="481" y="277" width="23" height="11" fill="#083776"/>
<rect x="504" y="277" width="11" height="11" fill="#084082"/>
<rect x="515" y="277" width="23" height="11" fill="#08488e"/>
<rect x="538" y="277" width="11" height="11" fill="#0a539e"/>
<rect x="549" y="277" width="12" height="11" fill="#0d57a1"/>
<rect x="561" y="277" width="11" height="11" fill="#135fa7"/>
<rect x="572" y="277" width="12" height="11" fill="#083370"/>
<rect x="584" y="277" width="11" height="11" fill="#084082"/>
<rect x="595" y="277" width="12" height="11" fill="#3787c0"/>
<rect x="607" y="277" width="11" height="11" fill="#2f7fbc"/>
<rect x="618" y="277" width="12" height="11" fill="#135fa7"/>
<rect x="630" y="277" width="11" height="11" fill="#206fb4"/>
<rect x="389" y="288" width="11" height="12" fill="#f6faff"/>
<rect x="400" y="288" width="12" height="12" fill="#f5f9fe"/>
<rect x="412" y="288" width="11" height="12" fill="#4a98c9"/>
<rect x="423" y="288" width="12" height="12" fill="#4f9bcb"/>
<rect x="435" y="288" width="11" height="12" fill="#549fcd"/>
<rect x="446" y="288" width="12" height="12" fill="#5fa6d1"/>
<rect x="458" y="288" width="11" height="12" fill="#3989c1"/>
<rect x="469" y="288" width="12" height="12" fill="#4a98c9"/>
<rect x="481" y="288" width="11" height="12" fill="#3989c1"/>
<rect x="492" y="288" width="12" height="12" fill="#4a98c9"/>
<rect x="504" y="288" width="11" height="12" fill="#4191c6"/>
<rect x="515" y="288" width="11" height="12" fill="#4594c7"/>
<rect x="526" y="288" width="23" height="12" fill="#4a98c9"/>
<rect x="549" y="288" width="12" height="12" fill="#3181bd"/>
<rect x="561" y="288" width="11" height="12" fill="#5aa2cf"/>
<rect x="572" y="288" width="12" height="12" fill="#3989c1"/>
<rect x="584" y="288" width="11" height="12" fill="#4191c6"/>
<rect x="595" y="288" width="23" height="12" fill="#1663aa"/>
<rect x="618" y="288" width="12" height="12" fill="#0d57a1"/>
<rect x="630" y="288" width="11" height="12" fill="#1967ad"/>
<rect x="412" y="300" width="11" height="11" fill="#7db8da"/>
<rect x="423" y="300" width="23" height="11" fill="#8abfdd"/>
<rect x="446" y="300" width="12" height="11" fill="#97c6df"/>
<rect x="458" y="300" width="11" height="11" fill="#7db8da"/>
<rect x="469" y="300" width="12" height="11" fill="#84bcdb"/>
<rect x="481" y="300" width="11" height="11" fill="#7db8da"/>
<rect x="492" y="300" width="46" height="11" fill="#84bcdb"/>
<rect x="538" y="300" width="11" height="11" fill="#7db8da"/>
<rect x="549" y="300" width="12" height="11" fill="#529dcc"/>
<rect x="561" y="300" width="11" height="11" fill="#8abfdd"/>
<rect x="572" y="300" width="12" height="11" fill="#6aaed6"/>
<rect x="584" y="300" width="11" height="11" fill="#74b3d8"/>
<rect x="595" y="300" width="23" height="11" fill="#84bcdb"/>
<rect x="618" y="300" width="12" height="11" fill="#5ca4d0"/>
<rect x="630" y="300" width="11" height="11" fill="#7db8da"/>
<rect x="423" y="311" width="12" height="11" fill="#ebf3fb"/>
<rect x="435" y="311" width="11" height="11" fill="#f3f8fe"/>
<rect x="446" y="311" width="12" height="11" fill="#f2f7fd"/>
<rect x="458" y="311" width="11" height="11" fill="#f0f6fd"/>
<rect x="469" y="311" width="23" height="11" fill="#f2f7fd"/>
<rect x="492" y="311" width="12" height="11" fill="#eef5fc"/>
<rect x="504" y="311" width="11" height="11" fill="#f2f7fd"/>
<rect x="515" y="311" width="11" height="11" fill="#f3f8fe"/>
<rect x="526" y="311" width="12" height="11" fill="#f0f6fd"/>
<rect x="538" y="311" width="11" height="11" fill="#e5eff9"/>
<rect x="549" y="311" width="12" height="11" fill="#f0f6fd"/>
<rect x="561" y="311" width="11" height="11" fill="#d7e6f5"/>
<rect x="572" y="311" width="23" height="11" fill="#f3f8fe"/>
<rect x="595" y="311" width="12" height="11" fill="#d7e6f5"/>
<rect x="607" y="311" width="11" height="11" fill="#cadef0"/>
<rect x="618" y="311" width="12" height="11" fill="#5ca4d0"/>
<rect x="630" y="311" width="11" height="11" fill="#abd0e6"/>
<rect x="435" y="322" width="11" height="12" fill="#e0ecf8"/>
<rect x="446" y="322" width="12" height="12" fill="#d7e6f5"/>
<rect x="458" y="322" width="11" height="12" fill="#f5f9fe"/>
<rect x="469" y="322" width="12" height="12" fill="#ebf3fb"/>
<rect x="481" y="322" width="11" height="12" fill="#f0f6fd"/>
<rect x="492" y="322" width="12" height="12" fill="#ddeaf7"/>
<rect x="504" y="322" width="11" height="12" fill="#f2f7fd"/>
<rect x="515" y="322" width="11" height="12" fill="#f3f8fe"/>
<rect x="526" y="322" width="23" height="12" fill="#f5f9fe"/>
<rect x="549" y="322" width="12" height="12" fill="#d5e5f4"/>
<rect x="561" y="322" width="11" height="12" fill="#dae8f6"/>
<rect x="572" y="322" width="12" height="12" fill="#f2f7fd"/>
<rect x="584" y="322" width="11" height="12" fill="#e5eff9"/>
<rect x="595" y="322" width="12" height="12" fill="#a1cbe2"/>
<rect x="607" y="322" width="11" height="12" fill="#b0d2e7"/>
<rect x="618" y="322" width="12" height="12" fill="#7db8da"/>
<rect x="630" y="322" width="11" height="12" fill="#abd0e6"/>
<rect x="446" y="334" width="12" height="11" fill="#f5f9fe"/>
<rect x="458" y="334" width="11" height="11" fill="#e8f1fa"/>
<rect x="469" y="334" width="12" height="11" fill="#f3f8fe"/>
<rect x="481" y="334" width="23" height="11" fill="#ddeaf7"/>
<rect x="504" y="334" width="11" height="11" fill="#dae8f6"/>
<rect x="515" y="334" width="11" height="11" fill="#eef5fc"/>
<rect x="526" y="334" width="12" height="11" fill="#e5eff9"/>
<rect x="538" y="334" width="11" height="11" fill="#cadef0"/>
<rect x="549" y="334" width="12" height="11" fill="#f5f9fe"/>
<rect x="561" y="334" width="11" height="11" fill="#f2f7fd"/>
<rect x="572" y="334" width="12" height="11" fill="#e5eff9"/>
<rect x="584" y="334" width="11" height="11" fill="#f3f8fe"/>
<rect x="595" y="334" width="12" height="11" fill="#c4daee"/>
<rect x="607" y="334" width="11" height="11" fill="#abd0e6"/>
<rect x="618" y="334" width="12" height="11" fill="#97c6df"/>
<rect x="630" y="334" width="11" height="11" fill="#cde0f1"/>
<rect x="458" y="345" width="11" height="12" fill="#bad6eb"/>
<rect x="469" y="345" width="12" height="12" fill="#f3f8fe"/>
<rect x="481" y="345" width="11" height="12" fill="#bad6eb"/>
<rect x="492" y="345" width="12" height="12" fill="#f2f7fd"/>
<rect x="504" y="345" width="11" height="12" fill="#c4daee"/>
<rect x="515" y="345" width="11" height="12" fill="#d7e6f5"/>
<rect x="526" y="345" width="12" height="12" fill="#d5e5f4"/>
<rect x="538" y="345" width="11" height="12" fill="#d7e6f5"/>
<rect x="549" y="345" width="12" height="12" fill="#f0f6fd"/>
<rect x="561" y="345" width="11" height="12" fill="#eef5fc"/>
<rect x="572" y="345" width="12" height="12" fill="#bfd8ed"/>
<rect x="584" y="345" width="11" height="12" fill="#f3f8fe"/>
<rect x="595" y="345" width="12" height="12" fill="#9dcae1"/>
<rect x="607" y="345" width="11" height="12" fill="#71b1d7"/>
<rect x="618" y="345" width="12" height="12" fill="#cde0f1"/>
<rect x="630" y="345" width="11" height="12" fill="#b5d4e9"/>
<rect x="469" y="357" width="12" height="11" fill="#dae8f6"/>
<rect x="481" y="357" width="11" height="11" fill="#f3f8fe"/>
<rect x="492" y="357" width="12" height="11" fill="#c4daee"/>
<rect x="504" y="357" width="22" height="11" fill="#f3f8fe"/>
<rect x="526" y="357" width="12" height="11" fill="#f5f9fe"/>
<rect x="538" y="357" width="11" height="11" fill="#f3f8fe"/>
<rect x="549" y="357" width="12" height="11" fill="#c7dcef"/>
<rect x="561" y="357" width="11" height="11" fill="#d5e5f4"/>
<rect x="572" y="357" width="12" height="11" fill="#f3f8fe"/>
<rect x="584" y="357" width="11" height="11" fill="#ebf3fb"/>
<rect x="595" y="357" width="12" height="11" fill="#57a0ce"/>
<rect x="607" y="357" width="34" height="11" fill="#8abfdd"/>
<rect x="481" y="368" width="11" height="12" fill="#d7e6f5"/>
<rect x="492" y="368" width="12" height="12" fill="#f3f8fe"/>
<rect x="504" y="368" width="11" height="12" fill="#d7e6f5"/>
<rect x="515" y="368" width="11" height="12" fill="#e0ecf8"/>
<rect x="526" y="368" width="23" height="12" fill="#ddeaf7"/>
<rect x="549" y="368" width="12" height="12" fill="#d5e5f4"/>
<rect x="561" y="368" width="11" height="12" fill="#eef5fc"/>
<rect x="572" y="368" width="12" height="12" fill="#d7e6f5"/>
<rect x="584" y="368" width="23" height="12" fill="#f3f8fe"/>
<rect x="607" y="368" width="11" height="12" fill="#dae8f6"/>
<rect x="618" y="368" width="12" height="12" fill="#a6cee4"/>
<rect x="630" y="368" width="11" height="12" fill="#e0ecf8"/>
<rect x="492" y="380" width="12" height="11" fill="#bad6eb"/>
<rect x="504" y="380" width="34" height="11" fill="#f3f8fe"/>
<rect x="538" y="380" width="11" height="11" fill="#f2f7fd"/>
<rect x="549" y="380" width="12" height="11" fill="#c7dcef"/>
<rect x="561" y="380" width="11" height="11" fill="#bfd8ed"/>
<rect x="572" y="380" width="12" height="11" fill="#f3f8fe"/>
<rect x="584" y="380" width="11" height="11" fill="#e8f1fa"/>
<rect x="595" y="380" width="12" height="11" fill="#4896c8"/>
<rect x="607" y="380" width="11" height="11" fill="#84bcdb"/>
<rect x="618" y="380" width="12" height="11" fill="#8abfdd"/>
<rect x="630" y="380" width="11" height="11" fill="#84bcdb"/>
<rect x="504" y="391" width="11" height="12" fill="#c7dcef"/>
<rect x="515" y="391" width="11" height="12" fill="#dae8f6"/>
<rect x="526" y="391" width="12" height="12" fill="#d5e5f4"/>
<rect x="538" y="391" width="11" height="12" fill="#ddeaf7"/>
<rect x="549" y="391" width="12" height="12" fill="#e5eff9"/>
<rect x="561" y="391" width="11" height="12" fill="#ddeaf7"/>
<rect x="572" y="391" width="12" height="12" fill="#bfd8ed"/>
<rect x="584" y="391" width="11" height="12" fill="#f3f8fe"/>
<rect x="595" y="391" width="12" height="12" fill="#f6faff"/>
<rect x="607" y="391" width="11" height="12" fill="#cde0f1"/>
<rect x="618" y="391" width="12" height="12" fill="#9dcae1"/>
<rect x="630" y="391" width="11" height="12" fill="#f5f9fe"/>
<rect x="515" y="403" width="23" height="11" fill="#f5f9fe"/>
<rect x="538" y="403" width="11" height="11" fill="#f0f6fd"/>
<rect x="549" y="403" width="12" height="11" fill="#d5e5f4"/>
<rect x="561" y="403" width="11" height="11" fill="#c7dcef"/>
<rect x="572" y="403" width="12" height="11" fill="#f3f8fe"/>
<rect x="584" y="403" width="11" height="11" fill="#ebf3fb"/>
<rect x="595" y="403" width="12" height="11" fill="#6aaed6"/>
<rect x="607" y="403" width="11" height="11" fill="#9dcae1"/>
<rect x="618" y="403" width="12" height="11" fill="#8abfdd"/>
<rect x="630" y="403" width="11" height="11" fill="#a1cbe2"/>
<rect x="526" y="414" width="12" height="11" fill="#f5f9fe"/>
<rect x="538" y="414" width="11" height="11" fill="#eef5fc"/>
<rect x="549" y="414" width="12" height="11" fill="#ddeaf7"/>
<rect x="561" y="414" width="11" height="11" fill="#e8f1fa"/>
<rect x="572" y="414" width="23" height="11" fill="#f3f8fe"/>
<rect x="595" y="414" width="12" height="11" fill="#a6cee4"/>
<rect x="607" y="414" width="11" height="11" fill="#b5d4e9"/>
<rect x="618" y="414" width="12" height="11" fill="#71b1d7"/>
<rect x="630" y="414" width="11" height="11" fill="#b0d2e7"/>
<rect x="538" y="425" width="11" height="12" fill="#f2f7fd"/>
<rect x="549" y="425" width="12" height="12" fill="#cadef0"/>
<rect x="561" y="425" width="11" height="12" fill="#ddeaf7"/>
<rect x="572" y="425" width="12" height="12" fill="#f3f8fe"/>
<rect x="584" y="425" width="11" height="12" fill="#eef5fc"/>
<rect x="595" y="425" width="12" height="12" fill="#7db8da"/>
<rect x="607" y="425" width="11" height="12" fill="#97c6df"/>
<rect x="618" y="425" width="12" height="12" fill="#8abfdd"/>
<rect x="630" y="425" width="11" height="12" fill="#9dcae1"/>
<rect x="549" y="437" width="12" height="11" fill="#c7dcef"/>
<rect x="561" y="437" width="11" height="11" fill="#b0d2e7"/>
<rect x="572" y="437" width="12" height="11" fill="#f3f8fe"/>
<rect x="584" y="437" width="11" height="11" fill="#ddeaf7"/>
<rect x="595" y="437" width="23" height="11" fill="#bad6eb"/>
<rect x="618" y="437" width="12" height="11" fill="#6aaed6"/>
<rect x="630" y="437" width="11" height="11" fill="#a1cbe2"/>
<rect x="561" y="448" width="11" height="12" fill="#ebf3fb"/>
<rect x="572" y="448" width="12" height="12" fill="#c4daee"/>
<rect x="584" y="448" width="11" height="12" fill="#ddeaf7"/>
<rect x="595" y="448" width="12" height="12" fill="#d7e6f5"/>
<rect x="607" y="448" width="11" height="12" fill="#c7dcef"/>
<rect x="618" y="448" width="12" height="12" fill="#9dcae1"/>
<rect x="630" y="448" width="11" height="12" fill="#cde0f1"/>
<rect x="572" y="460" width="12" height="11" fill="#c4daee"/>
<rect x="584" y="460" width="11" height="11" fill="#ddeaf7"/>
<rect x="595" y="460" width="12" height="11" fill="#97c6df"/>
<rect x="607" y="460" width="11" height="11" fill="#2676b8"/>
<rect x="618" y="460" width="12" height="11" fill="#a6cee4"/>
<rect x="630" y="460" width="11" height="11" fill="#91c3de"/>
<rect x="584" y="471" width="11" height="12" fill="#e8f1fa"/>
<rect x="595" y="471" width="12" height="12" fill="#4d99ca"/>
<rect x="607" y="471" width="11" height="12" fill="#77b5d9"/>
<rect x="618" y="471" width="23" height="12" fill="#7db8da"/>
<rect x="595" y="483" width="12" height="11" fill="#ddeaf7"/>
<rect x="607" y="483" width="11" height="11" fill="#bfd8ed"/>
<rect x="618" y="483" width="12" height="11" fill="#3b8bc2"/>
<rect x="630" y="483" width="11" height="11" fill="#8abfdd"/>
<rect x="607" y="494" width="11" height="11" fill="#ebf3fb"/>
<rect x="618" y="494" width="12" height="11" fill="#edf4fc"/>
<rect x="630" y="494" width="11" height="11" fill="#f3f8fe"/>
<rect x="618" y="505" width="12" height="12" fill="#f3f8fe"/>
<rect x="630" y="505" width="11" height="12" fill="#f5f9fe"/>
<rect x="630" y="517" width="11" height="11" fill="#f5f9fe"/>
</g>
<g stroke="#000" stroke-width="1" fill="none" shape-rendering="crispEdges">
<rect x="160.5" y="60.5" width="480" height="480" stroke-width="1.4" shape-rendering="auto"/>
<path d="M166.5 61 v6 M166.5 540 v-6 M161 66.5 h6 M640 66.5 h-6 M177.5 61 v6 M177.5 540 v-6 M161 77.5 h6 M640 77.5 h-6 M189.5 61 v6 M189.5 540 v-6 M161 89.5 h6 M640 89.5 h-6 M200.5 61 v6 M200.5 540 v-6 M161 100.5 h6 M640 100.5 h-6 M211.5 61 v6 M211.5 540 v-6 M161 111.5 h6 M640 111.5 h-6 M223.5 61 v6 M223.5 540 v-6 M161 123.5 h6 M640 123.5 h-6 M234.5 61 v6 M234.5 540 v-6 M161 134.5 h6 M640 134.5 h-6 M246.5 61 v6 M246.5 540 v-6 M161 146.5 h6 M640 146.5 h-6 M257.5 61 v6 M257.5 540 v-6 M161 157.5 h6 M640 157.5 h-6 M269.5 61 v6 M269.5 540 v-6 M161 169.5 h6 M640 169.5 h-6 M280.5 61 v6 M280.5 540 v-6 M161 180.5 h6 M640 180.5 h-6 M291.5 61 v6 M291.5 540 v-6 M161 191.5 h6 M640 191.5 h-6 M303.5 61 v6 M303.5 540 v-6 M161 203.5 h6 M640 203.5 h-6 M314.5 61 v6 M314.5 540 v-6 M161 214.5 h6 M640 214.5 h-6 M326.5 61 v6 M326.5 540 v-6 M161 226.5 h6 M640 226.5 h-6 M337.5 61 v6 M337.5 540 v-6 M161 237.5 h6 M640 237.5 h-6 M349.5 61 v6 M349.5 540 v-6 M161 249.5 h6 M640 249.5 h-6 M360.5 61 v6 M360.5 540 v-6 M161 260.5 h6 M640 260.5 h-6 M371.5 61 v6 M371.5 540 v-6 M161 271.5 h6 M640 271.5 h-6 M383.5 61 v6 M383.5 540 v-6 M161 283.5 h6 M640 283.5 h-6 M394.5 61 v6 M394.5 540 v-6 M161 294.5 h6 M640 294.5 h-6 M406.5 61 v6 M406.5 540 v-6 M161 306.5 h6 M640 306.5 h-6 M417.5 61 v6 M417.5 540 v-6 M161 317.5 h6 M640 317.5 h-6 M429.5 61 v6 M429.5 540 v-6 M161 329.5 h6 M640 329.5 h-6 M440.5 61 v6 M440.5 540 v-6 M161 340.5 h6 M640 340.5 h-6 M451.5 61 v6 M451.5 540 v-6 M161 351.5 h6 M640 351.5 h-6 M463.5 61 v6 M463.5 540 v-6 M161 363.5 h6 M640 363.5 h-6 M474.5 61 v6 M474.5 540 v-6 M161 374.5 h6 M640 374.5 h-6 M486.5 61 v6 M486.5 540 v-6 M161 386.5 h6 M640 386.5 h-6 M497.5 61 v6 M497.5 540 v-6 M161 397.5 h6 M640 397.5 h-6 M509.5 61 v6 M509.5 540 v-6 M161 409.5 h6 M640 409.5 h-6 M520.5 61 v6 M520.5 540 v-6 M161 420.5 h6 M640 420.5 h-6 M531.5 61 v6 M531.5 540 v-6 M161 431.5 h6 M640 431.5 h-6 M543.5 61 v6 M543.5 540 v-6 M161 443.5 h6 M640 443.5 h-6 M554.5 61 v6 M554.5 540 v-6 M161 454.5 h6 M640 454.5 h-6 M566.5 61 v6 M566.5 540 v-6 M161 466.5 h6 M640 466.5 h-6 M577.5 61 v6 M577.5 540 v-6 M161 477.5 h6 M640 477.5 h-6 M589.5 61 v6 M589.5 540 v-6 M161 489.5 h6 M640 489.5 h-6 M600.5 61 v6 M600.5 540 v-6 M161 500.5 h6 M640 500.5 h-6 M611.5 61 v6 M611.5 540 v-6 M161 511.5 h6 M640 511.5 h-6 M623.5 61 v6 M623.5 540 v-6 M161 523.5 h6 M640 523.5 h-6 M634.5 61 v6 M634.5 540 v-6 M161 534.5 h6 M640 534.5 h-6" stroke-opacity="0.8"/>
</g>
<text transform="translate(166.8,54) scale(0.95,1)" text-anchor="middle">C1'</text>
<text transform="translate(156,72) scale(0.95,1)" text-anchor="end">C1'</text>
<text transform="translate(224.3,54) scale(0.95,1)" text-anchor="middle">C4'</text>
<text transform="translate(156,129) scale(0.95,1)" text-anchor="end">C4'</text>
<text transform="translate(279.4,54) scale(0.95,1)" text-anchor="middle">N1</text>
<text transform="translate(155,186) scale(0.95,1)" text-anchor="end">N1</text>
<text transform="translate(337.9,54) scale(0.95,1)" text-anchor="middle">O2'</text>
<text transform="translate(156,243) scale(0.95,1)" text-anchor="end">O2'</text>
<text transform="translate(395.2,54) scale(0.95,1)" text-anchor="middle">OP2</text>
<text transform="translate(155,300) scale(0.95,1)" text-anchor="end">OP2</text>
<text transform="translate(452.3,54) scale(0.95,1)" text-anchor="middle">C3'</text>
<text transform="translate(156,357) scale(0.95,1)" text-anchor="end">C3'</text>
<text transform="translate(508.5,54) scale(0.95,1)" text-anchor="middle">C6</text>
<text transform="translate(155,415) scale(0.95,1)" text-anchor="end">C6</text>
<text transform="translate(566.6,54) scale(0.95,1)" text-anchor="middle">O3'</text>
<text transform="translate(156,472) scale(0.95,1)" text-anchor="end">O3'</text>
<text transform="translate(623.7,54) scale(0.95,1)" text-anchor="middle">OP2</text>
<text transform="translate(155,529) scale(0.95,1)" text-anchor="end">OP2</text>
<rect x="680" y="60" width="16" height="480" fill="url(#cb)"/>
<g stroke="#000" stroke-width="1" fill="none" shape-rendering="crispEdges">
<rect x="680.5" y="60.5" width="16" height="480" stroke-width="1.4" shape-rendering="auto"/>
<path d="M696 540.5 h-6 M696 482.5 h-6 M696 423.5 h-6 M696 365.5 h-6 M696 307.5 h-6 M696 249.5 h-6 M696 190.5 h-6 M696 132.5 h-6 M696 74.5 h-6" stroke-opacity="0.8"/>
</g>
<text transform="translate(701,546) scale(0.95,1)">0.00</text>
<text transform="translate(701,488) scale(0.95,1)">0.08</text>
<text transform="translate(701,429) scale(0.95,1)">0.16</text>
<text transform="translate(701,371) scale(0.95,1)">0.24</text>
<text transform="translate(701,313) scale(0.95,1)">0.32</text>
<text transform="translate(701,255) scale(0.95,1)">0.40</text>
<text transform="translate(701,196) scale(0.95,1)">0.48</text>
<text transform="translate(701,138) scale(0.95,1)">0.56</text>
<text transform="translate(701,80) scale(0.95,1)">0.64</text>
</svg>
</body></html>
